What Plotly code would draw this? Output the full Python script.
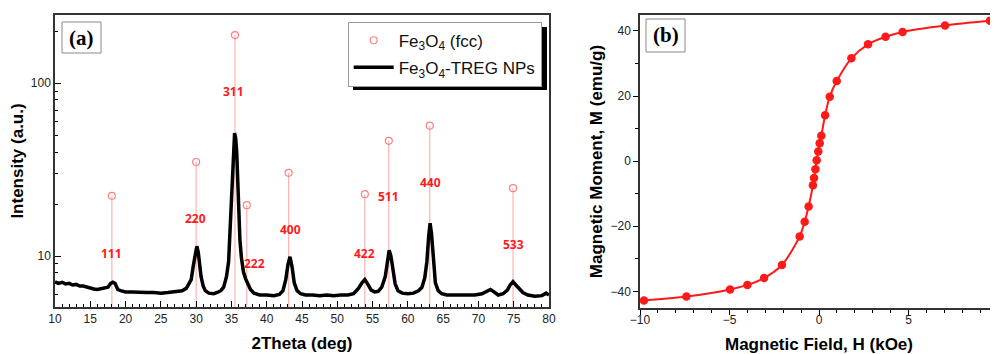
import numpy as np
import plotly.graph_objects as go

# ---------------- Panel (a): XRD data ----------------
xrd_two_theta = [10, 10.5, 11, 11.5, 12, 12.5, 13, 13.5, 14, 14.5, 15, 15.5, 16, 16.5, 17, 17.5,
                 17.9, 18.2, 18.5, 18.9, 19.3, 20, 21, 22, 23, 24, 25, 26, 27, 28, 28.6, 29.0,
                 29.3, 29.6, 29.9, 30.1, 30.3, 30.5, 30.7, 31.0, 31.3, 31.8, 32.5, 33.0, 33.5,
                 33.9, 34.3, 34.6, 34.8, 35.0, 35.2, 35.35, 35.45, 35.6, 35.75, 35.9, 36.05,
                 36.2, 36.4, 36.7, 37.0, 37.3, 37.7, 38.2, 39, 40, 41, 41.8, 42.3, 42.7, 43.0,
                 43.3, 43.6, 43.9, 44.3, 44.8, 45.5, 46.5, 47.5, 48.5, 49.5, 50.5, 51.5, 52.3,
                 53.0, 53.5, 53.9, 54.3, 54.8, 55.3, 55.8, 56.3, 56.8, 57.1, 57.35, 57.6, 57.9,
                 58.2, 58.6, 59.2, 60, 60.8, 61.5, 62.0, 62.4, 62.7, 62.95, 63.15, 63.35, 63.6,
                 63.9, 64.3, 64.8, 65.5, 66.5, 67.5, 68.5, 69.5, 70.5, 71.2, 71.7, 72.2, 72.8,
                 73.5, 74.1, 74.5, 74.9, 75.3, 75.8, 76.3, 77, 78, 79, 79.6, 80]
xrd_intensity = [7.1, 6.95, 7.05, 6.9, 6.95, 6.8, 6.85, 6.7, 6.7, 6.6, 6.55, 6.45, 6.4, 6.45, 6.5, 6.6,
                 6.95, 7.05, 6.95, 6.4, 6.3, 6.2, 6.2, 6.15, 6.15, 6.15, 6.1, 6.15, 6.2, 6.3, 6.5, 6.9,
                 7.3, 8.8, 10.8, 11.4, 10.5, 9.0, 7.6, 6.7, 6.3, 6.1, 6.05, 6.15, 6.3,
                 6.6, 7.6, 9.3, 14.5, 23, 35, 47, 51.5, 48, 40, 27, 17,
                 12.5, 9.9, 8.1, 7.4, 7.0, 6.4, 6.1, 5.95, 5.95, 5.9, 6.0, 6.3, 7.3, 8.9,
                 9.9, 8.6, 7.0, 6.3, 6.05, 5.95, 5.95, 5.9, 5.95, 5.9, 5.95, 5.95, 6.05,
                 6.5, 7.0, 7.3, 6.9, 6.35, 6.2, 6.25, 6.6, 7.6, 9.2, 10.8, 10.0, 8.0,
                 6.9, 6.3, 6.1, 6.05, 6.1, 6.3, 6.6, 7.5, 9.3, 13, 15.5, 13.5, 9.3,
                 7.0, 6.3, 6.05, 5.95, 5.95, 5.9, 5.95, 5.95, 6.05, 6.3, 6.4, 6.2, 5.95,
                 6.05, 6.35, 6.8, 7.1, 6.8, 6.5, 6.15, 5.95, 5.85, 5.9, 6.1, 5.95]

ref_two_theta = [18.06, 30.0, 35.5, 37.17, 43.1, 53.9, 57.3, 63.1, 74.9]
ref_intensity = [22.3, 35.0, 190.0, 19.7, 30.3, 22.8, 46.4, 56.8, 24.7]

hkl_labels = ["111", "220", "311", "222", "400", "422", "511", "440", "533"]
hkl_label_x = [18.06, 29.9, 35.3, 38.3, 43.4, 53.9, 57.3, 63.2, 75.0]
hkl_label_y = [10.4, 16.4, 89.0, 9.1, 14.3, 10.4, 22.0, 26.5, 11.7]

xa_ticks = [10, 15, 20, 25, 30, 35, 40, 45, 50, 55, 60, 65, 70, 75, 80]
ya_ticks = [10, 100]
ya_minor = [6, 7, 8, 9, 20, 30, 40, 50, 60, 70, 80, 90, 200]

# ---------------- Panel (b): M-H data ----------------
field_koe = [-9.78, -7.41, -4.97, -4.00, -3.07, -2.07, -1.08, -0.80, -0.58, -0.34, -0.28, -0.20,
             -0.13, -0.04, 0.04, 0.13, 0.34, 0.60, 0.99, 1.81, 2.74, 3.72, 4.67, 7.04, 9.55]
moment_emu_g = [-42.8, -41.6, -39.4, -38.0, -35.9, -31.9, -23.1, -18.6, -13.9, -7.4, -5.2, -2.5,
                0.3, 3.0, 5.5, 7.8, 14.1, 19.8, 24.6, 31.6, 35.9, 38.2, 39.7, 41.7, 43.1]

# ---------------- Geometry helpers (page pixels -> paper fractions) ----------------
W, H = 998, 354
OFF = 8  # the page body margin offsets the figure by 8 px


def px(x):
    return (x - OFF) / W


def py(y):
    return 1 - (y - OFF) / H


YA_RANGE = [0.705, 2.395]
y_bottom = 10 ** YA_RANGE[0]

fig = go.Figure()

ref_arr = np.array(ref_intensity)
fig.add_trace(go.Scatter(
    x=ref_two_theta, y=ref_intensity, mode="markers",
    name="Fe<sub>3</sub>O<sub>4</sub> (fcc)", legendgroup="g1",
    marker=dict(symbol="circle-open", size=7, color="#ff8080", line=dict(width=1.2)),
    error_y=dict(type="data", symmetric=False, array=[0] * len(ref_intensity),
                 arrayminus=list(ref_arr - y_bottom * 0.98), width=0,
                 color="#ffb3b3", thickness=1.2),
    xaxis="x", yaxis="y"))

fig.add_trace(go.Scatter(
    x=xrd_two_theta, y=xrd_intensity, mode="lines",
    name="Fe<sub>3</sub>O<sub>4</sub>-TREG NPs", legendgroup="g2",
    line=dict(color="black", width=3.5),
    xaxis="x", yaxis="y"))

fig.add_trace(go.Scatter(
    x=field_koe, y=moment_emu_g, mode="lines+markers", showlegend=False,
    line=dict(color="#ff1a1a", width=2, shape="spline", smoothing=0.8),
    marker=dict(size=8.5, color="#ff1a1a"),
    xaxis="x2", yaxis="y2"))

tick_font = dict(family="Liberation Sans, Arial", size=12, color="#222")
title_font = dict(family="Liberation Sans, Arial", size=17, color="black", weight="bold")

fig.update_layout(
    width=W, height=H, margin=dict(l=0, r=0, t=0, b=0, autoexpand=False),
    paper_bgcolor="white", plot_bgcolor="white",
    showlegend=True,
    legend=dict(x=px(347.7), y=py(21.7), xanchor="left", yanchor="top",
                bgcolor="white", bordercolor="#9a9a9a", borderwidth=1,
                font=dict(family="Liberation Sans, Arial", size=17, color="#111"),
                itemwidth=40, tracegroupgap=2),
    xaxis=dict(domain=[px(55), px(549)], range=[10, 80], tickvals=xa_ticks,
               ticks="inside", ticklen=6, tickwidth=1, tickcolor="black",
               minor=dict(dtick=1, tick0=10, ticks="inside", ticklen=3, tickcolor="black"),
               showline=True, linecolor="#333", linewidth=1.5, mirror=True,
               showgrid=False, zeroline=False, tickfont=tick_font, automargin=False,
               title=dict(text="2Theta (deg)", font=title_font, standoff=12),
               anchor="y"),
    yaxis=dict(domain=[py(307), py(15)], type="log", range=YA_RANGE,
               tickvals=ya_ticks, ticktext=["10", "100"],
               ticks="inside", ticklen=6, tickcolor="black",
               minor=dict(tickmode="array", tickvals=ya_minor, ticks="inside", ticklen=3,
                          tickcolor="black"),
               showline=True, linecolor="#333", linewidth=1.5, mirror=True,
               showgrid=False, zeroline=False, tickfont=tick_font, automargin=False,
               title=dict(text="Intensity (a.u.)", font=title_font, standoff=3),
               anchor="x"),
    xaxis2=dict(domain=[px(640), px(998)], range=[-10, 10], dtick=5, tick0=0,
                ticks="outside", ticklen=5, tickcolor="black",
                minor=dict(dtick=1, tick0=0, ticks="outside", ticklen=3, tickcolor="black"),
                showline=True, linecolor="#333", linewidth=1.5, mirror=True,
                showgrid=False, zeroline=False, tickfont=tick_font, automargin=False,
                ticklabelstandoff=-5,
                title=dict(text="Magnetic Field, H (kOe)", font=title_font, standoff=12),
                anchor="y2"),
    yaxis2=dict(domain=[py(308), py(15)], range=[-45.1, 44.9], dtick=20, tick0=0,
                ticks="outside", ticklen=5, tickcolor="black",
                minor=dict(dtick=10, tick0=0, ticks="outside", ticklen=3, tickcolor="black"),
                showline=True, linecolor="#333", linewidth=1.5, mirror=True,
                showgrid=False, zeroline=False, tickfont=tick_font, automargin=False,
                title=dict(text="Magnetic Moment, M (emu/g)", font=title_font, standoff=4),
                anchor="x2"),
)

annotations = []
for lab, lx, ly in zip(hkl_labels, hkl_label_x, hkl_label_y):
    annotations.append(dict(x=lx, y=np.log10(ly), xref="x", yref="y", text=lab,
                            showarrow=False, xanchor="center", yanchor="middle",
                            font=dict(family="Noto Sans", size=12, color="#ff1a1a",
                                      weight="bold")))

panel_font = dict(family="Liberation Serif, Times New Roman", size=21, color="black",
                  weight="bold")
annotations.append(dict(x=px((62 + 101) / 2), y=py(37.5), xref="paper", yref="paper",
                        xanchor="center", yanchor="middle",
                        text="(a)", showarrow=False, font=panel_font))
annotations.append(dict(x=px((646 + 685) / 2), y=py(35.5), xref="paper", yref="paper",
                        xanchor="center", yanchor="middle",
                        text="(b)", showarrow=False, font=panel_font))
fig.update_layout(annotations=annotations)

shapes = [
    dict(type="rect", xref="paper", yref="paper", x0=px(62), x1=px(101),
         y0=py(53), y1=py(22), line=dict(color="#8a8a8a", width=1)),
    dict(type="rect", xref="paper", yref="paper", x0=px(646), x1=px(685),
         y0=py(52), y1=py(19), line=dict(color="#8a8a8a", width=1)),
    # legend drop shadow
    dict(type="rect", xref="paper", yref="paper", x0=px(353), x1=px(547),
         y0=py(90), y1=py(27), line=dict(width=0), fillcolor="black"),
]
fig.update_layout(shapes=shapes)

fig.write_html("out.html")
